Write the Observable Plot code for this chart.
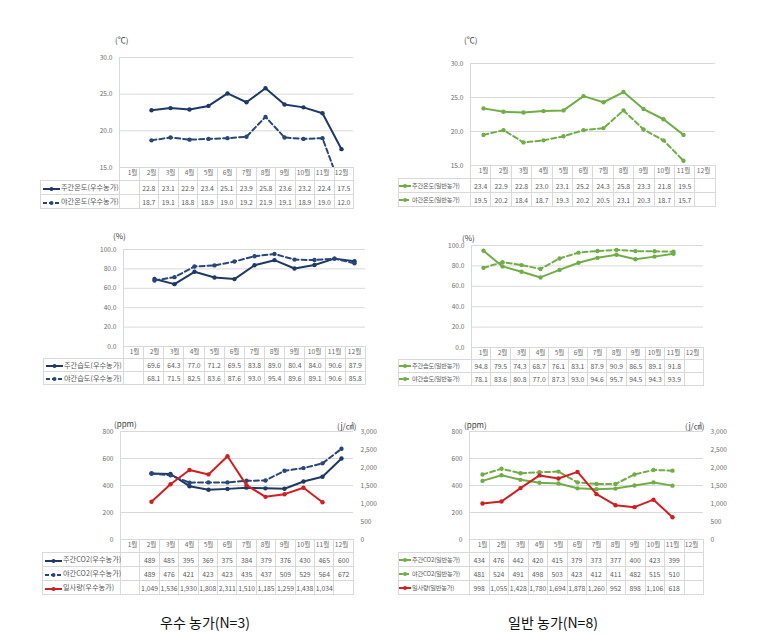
<!DOCTYPE html>
<html><head><meta charset="utf-8">
<script src="https://cdn.jsdelivr.net/npm/d3@7"></script>
<script src="https://cdn.jsdelivr.net/npm/@observablehq/plot@0.6"></script>
<style>
body{margin:0;background:#fff;}
#root{position:relative;width:784px;height:634px;overflow:hidden;font-family:"Noto Sans CJK KR","Noto Sans",sans-serif;color:#595959;background:#fff;}
.abs{position:absolute;white-space:nowrap;}
.unit{font-size:8px;line-height:10px;color:#404040;}
table.dt{position:absolute;border-collapse:collapse;table-layout:fixed;font-size:6.8px;color:#595959;}
table.dt td{border:1px solid #d9d9d9;padding:0;text-align:center;white-space:nowrap;overflow:visible;line-height:8px;}
table.dt td.lg{text-align:left;padding-left:2px;font-size:7.2px;}
table.dt.narrow td.lg{padding-left:0;font-size:6.2px;letter-spacing:-0.2px;}
table.dt tr.hd td.blank{border:none;}
table.dt svg{vertical-align:middle;margin-right:1px;}
.cap{font-size:14px;line-height:16px;color:#111;font-family:"Noto Sans CJK KR",sans-serif;transform:translateX(-50%);}
</style>
</head><body><div id="root"></div>
<script>
// ---------- data ----------
const months = ["1월","2월","3월","4월","5월","6월","7월","8월","9월","10월","11월","12월"];

const tempDayExc   = [null,22.8,23.1,22.9,23.4,25.1,23.9,25.8,23.6,23.2,22.4,17.5];
const tempNightExc = [null,18.7,19.1,18.8,18.9,19.0,19.2,21.9,19.1,18.9,19.0,12.0];
const tempDayGen   = [23.4,22.9,22.8,23.0,23.1,25.2,24.3,25.8,23.3,21.8,19.5,null];
const tempNightGen = [19.5,20.2,18.4,18.7,19.3,20.2,20.5,23.1,20.3,18.7,15.7,null];

const humDayExc    = [null,69.6,64.3,77.0,71.2,69.5,83.8,89.0,80.4,84.0,90.6,87.9];
const humNightExc  = [null,68.1,71.5,82.5,83.6,87.6,93.0,95.4,89.6,89.1,90.6,85.8];
const humDayGen    = [94.8,79.5,74.3,68.7,76.1,83.1,87.9,90.9,86.5,89.1,91.8,null];
const humNightGen  = [78.1,83.6,80.8,77.0,87.3,93.0,94.6,95.7,94.5,94.3,93.9,null];

const co2DayExc    = [null,489,485,395,369,375,384,379,376,430,465,600];
const co2NightExc  = [null,489,476,421,423,423,435,437,509,529,564,672];
const solarExc     = [null,1049,1536,1930,1808,2311,1510,1185,1259,1438,1034,null];
const co2DayGen    = [434,476,442,420,415,379,373,377,400,423,399,null];
const co2NightGen  = [481,524,491,498,503,423,412,411,482,515,510,null];
const solarGen     = [998,1055,1428,1780,1694,1878,1260,952,898,1106,618,null];

const tempTicks = [15,20,25,30];
const humTicks  = [0,20,40,60,80,100];
const co2Ticks  = [0,200,400,600,800];
const solarTicks = [0,500,1000,1500,2000,2500,3000];

const captions = ["우수 농가(N=3)","일반 농가(N=8)"];

// ---------- style ----------
const NAVY="#1f3864", NAVY2="#2a4677", GREEN="#70ad47", RED="#d01f22";
const SOLAR_K = 800/3000;

const panels = [
 {L:119,R:353,T:57,B:167,tl:40,headH:13,rowH:14,units:[{t:"(℃)",x:115,y:35}],
  y:[15,30],ticks:tempTicks,tf:".1f",
  series:[{name:"주간온도(우수농가)",v:tempDayExc,c:NAVY,f:".1f"},{name:"야간온도(우수농가)",v:tempNightExc,c:NAVY2,dash:"5,3",f:".1f"}]},
 {L:470,R:715,T:63,B:165,tl:398,narrow:true,headH:13,rowH:14,units:[{t:"(℃)",x:464,y:35}],
  y:[15,30],ticks:tempTicks,tf:".1f",
  series:[{name:"주간온도(일반농가)",v:tempDayGen,c:GREEN,f:".1f"},{name:"야간온도(일반농가)",v:tempNightGen,c:GREEN,dash:"5,3",f:".1f"}]},
 {L:123,R:365,T:249,B:346,tl:43,headH:12,rowH:13,units:[{t:"(%)",x:113,y:231}],
  y:[0,100],ticks:humTicks,tf:".1f",
  series:[{name:"주간습도(우수농가)",v:humDayExc,c:NAVY,f:".1f"},{name:"야간습도(우수농가)",v:humNightExc,c:NAVY2,dash:"5,3",f:".1f"}]},
 {L:471,R:703,T:245,B:347,tl:398,narrow:true,headH:12,rowH:13,units:[{t:"(%)",x:462,y:233}],
  y:[0,100],ticks:humTicks,tf:".1f",
  series:[{name:"주간습도(일반농가)",v:humDayGen,c:GREEN,f:".1f"},{name:"야간습도(일반농가)",v:humNightGen,c:GREEN,dash:"5,3",f:".1f"}]},
 {L:120,R:353,T:431,B:539,tl:42,headH:13,rowH:14,units:[{t:"(ppm)",x:114,y:419},{t:"(j/㎠)",x:337,y:421}],
  y:[0,800],ticks:co2Ticks,tf:"d",right:true,
  series:[{name:"주간CO2(우수농가)",v:co2DayExc,c:NAVY,f:"d"},{name:"야간CO2(우수농가)",v:co2NightExc,c:NAVY2,dash:"5,3",f:"d"},{name:"일사량(우수농가)",v:solarExc,c:RED,f:",",k:SOLAR_K}]},
 {L:469,R:703,T:431,B:539,tl:398,narrow:true,headH:13,rowH:14,units:[{t:"(ppm)",x:464,y:420},{t:"(j/㎠)",x:685,y:421}],
  y:[0,800],ticks:co2Ticks,tf:"d",right:true,
  series:[{name:"주간CO2(일반농가)",v:co2DayGen,c:GREEN,f:"d"},{name:"야간CO2(일반농가)",v:co2NightGen,c:GREEN,dash:"5,3",f:"d"},{name:"일사량(일반농가)",v:solarGen,c:RED,f:",",k:SOLAR_K}]},
];

const root = document.getElementById("root");

function swatch(s, w){
  return `<svg width="${w}" height="6"><line x1="0" x2="${w}" y1="3" y2="3" stroke="${s.c}" stroke-width="2" ${s.dash?`stroke-dasharray="4,2"`:""}/><circle cx="${w/2}" cy="3" r="2" fill="${s.c}"/></svg>`;
}

panels.forEach(p => {
  const ml = 30, mr = p.right ? 30 : 4, mt = 4, mb = p.headH;
  const width = p.R - p.L + ml + mr;
  const height = p.B - p.T + mt + mb;
  const marks = [
    Plot.gridY(p.ticks, {stroke:"#d9d9d9", strokeOpacity:1}),
    Plot.axisY(p.ticks, {anchor:"left", tickSize:0, tickPadding:7, tickFormat:d3.format(p.tf), label:null}),
    Plot.axisX({tickSize:0, tickPadding:3, label:null}),
    Plot.frame({anchor:"left", stroke:"#d9d9d9"})
  ];
  if (p.right) {
    marks.push(Plot.axisY(solarTicks.map(v => v*SOLAR_K), {anchor:"right", tickSize:0, tickPadding:7, tickFormat:v => d3.format(",")(Math.round(v/SOLAR_K)), label:null}));
  }
  p.series.forEach(s => {
    const k = s.k || 1;
    const data = s.v.map((v,i) => ({m:months[i], v: v == null ? null : v*k}));
    marks.push(Plot.line(data, {x:"m", y:"v", stroke:s.c, strokeWidth:2, strokeDasharray:s.dash, clip:true}));
    marks.push(Plot.dot(data.filter(d => d.v != null), {x:"m", y:"v", fill:s.c, r:2.2, clip:true}));
  });
  const chart = Plot.plot({
    width, height, marginLeft:ml, marginRight:mr, marginTop:mt, marginBottom:mb,
    x:{type:"point", domain:months, padding:0.5},
    y:{domain:p.y},
    style:{fontFamily:'"Noto Sans CJK KR","Noto Sans",sans-serif', fontSize:"6.6px", color:"#6b6b6b", background:"transparent", overflow:"visible"},
    marks
  });
  chart.style.position = "absolute";
  chart.style.left = (p.L - ml) + "px";
  chart.style.top = (p.T - mt) + "px";
  root.appendChild(chart);

  // data table
  const bw = (p.R - p.L) / 12;
  const sw = p.narrow ? 12 : 17;
  let html = `<colgroup><col style="width:${p.L - p.tl}px">` + months.map(() => `<col style="width:${bw}px">`).join("") + `</colgroup>`;
  html += `<tr class="hd" style="height:${p.headH}px"><td class="blank"></td>` + months.map(() => `<td></td>`).join("") + `</tr>`;
  p.series.forEach(s => {
    html += `<tr style="height:${p.rowH}px"><td class="lg">${swatch(s, sw)}${s.name}</td>` +
      s.v.map(v => `<td>${v == null ? "" : d3.format(s.f)(v)}</td>`).join("") + `</tr>`;
  });
  const t = document.createElement("table");
  t.className = "dt" + (p.narrow ? " narrow" : "");
  t.innerHTML = html;
  t.style.left = p.tl + "px";
  t.style.top = p.B + "px";
  t.style.width = (p.R - p.tl) + "px";
  root.appendChild(t);

  p.units.forEach(u => {
    const d = document.createElement("div");
    d.className = "abs unit";
    d.textContent = u.t;
    d.style.left = u.x + "px"; d.style.top = u.y + "px";
    root.appendChild(d);
  });
});

[[205,614],[553,614]].forEach((pos,i) => {
  const d = document.createElement("div");
  d.className = "abs cap";
  d.textContent = captions[i];
  d.style.left = pos[0] + "px"; d.style.top = pos[1] + "px";
  root.appendChild(d);
});
</script></body></html>
